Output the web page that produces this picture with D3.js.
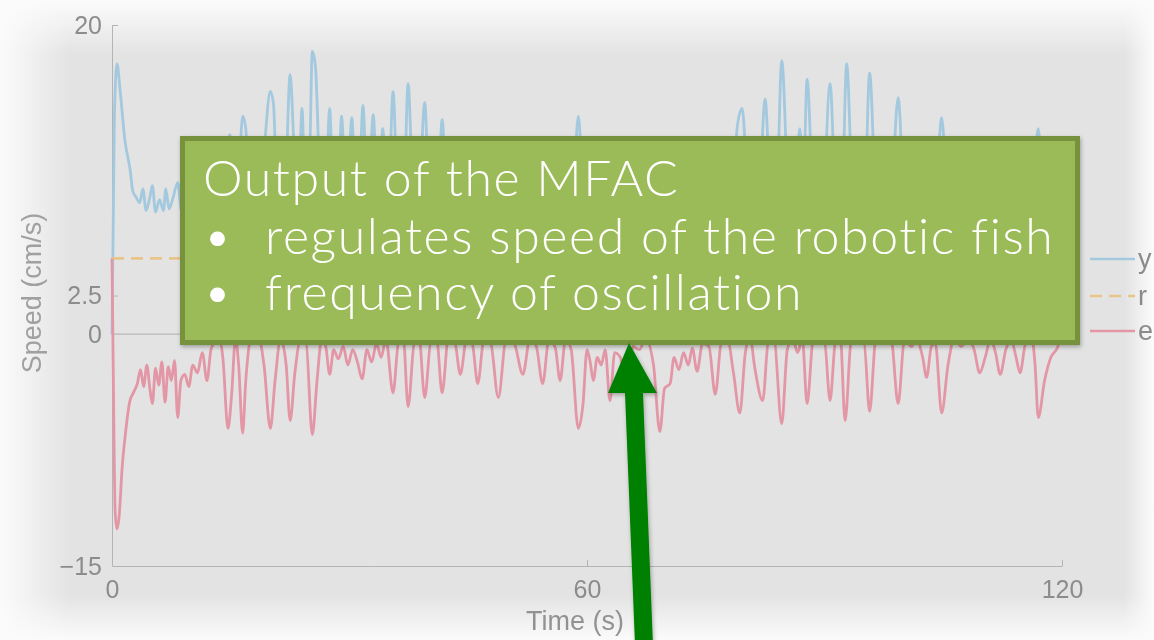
<!DOCTYPE html>
<html>
<head>
<meta charset="utf-8">
<script src="https://cdn.jsdelivr.net/npm/d3@7"></script>
<style>
  body { margin: 0; background: #e4e4e4; }
  svg { display: block; }
  .tick text { fill: #8c8c8c; font-family: "Liberation Sans", Arial, sans-serif; font-size: 25px; }
  .axis path, .axis line { stroke: #b4b4b4; }
</style>
</head>
<body>
<svg id="chart" width="1154" height="640"></svg>
<script>
// time (s) / speed (cm/s) for the measured output y
var timeY = [0,0.3,0.63,1.0,1.64,2.27,2.65,3.0,3.5,3.9,4.3,4.8,5.1,5.5,6.0,6.5,6.8,7.2,7.7,8.3,8.8,9.3,9.8,10.3,10.8,11.3,12.0,12.6,13.2,13.7,14.3,14.9,15.4,15.9,16.5,16.9,17.4,18.0,18.6,19.4,20.0,20.4,21.0,21.6,22.0,22.5,23.0,23.5,24.0,24.5,25.0,25.3,25.7,26.3,26.8,27.5,28.0,28.5,29.0,29.6,30.3,30.8,31.2,31.7,32.3,33.0,33.6,34.2,34.8,35.5,36.2,36.8,37.4,38.0,38.6,39.5,40.2,41.0,41.7,42.4,43.2,44.0,44.8,45.5,46.2,47.0,47.8,48.8,49.8,50.8,51.9,52.8,53.6,54.4,55.3,56.0,56.6,57.4,58.3,58.9,59.6,60.2,60.8,61.5,62.2,62.9,63.7,64.5,65.2,66.0,67.0,68.4,69.2,69.9,70.5,71.2,72.0,72.7,73.9,74.8,75.5,76.2,77.0,78.0,79.0,79.6,80.3,81.0,81.8,82.5,83.2,83.8,84.6,85.4,86.0,86.9,87.3,87.8,88.7,89.6,90.7,91.5,92.1,92.8,93.6,94.4,95.0,95.7,96.6,97.5,98.5,99.3,100.2,101.0,102.0,102.9,103.8,104.8,105.6,106.5,107.5,108.5,109.6,110.6,111.4,112.2,113.2,114.0,114.7,115.6,116.3,117.0,117.7,118.5,119.4,119.8];
var speedY = [0,14,17.5,15.9,12.5,10.7,9.2,8.9,8.5,9.4,8.0,8.9,9.6,7.9,8.7,8.0,9.4,8.1,8.8,9.8,7.9,8.2,7.2,7.8,6.8,7.3,8.5,6.8,6.0,6.5,10.5,12.9,7.0,8.5,14.1,13.3,6.0,5.3,6.2,13.0,15.7,14.9,6.0,5.5,10.5,16.8,12.0,8.0,14.6,6.5,12.0,18.3,17.3,9.0,6.0,14.6,7.5,8.0,14.1,7.5,14.0,7.0,8.5,14.8,7.5,14.2,7.0,13.3,6.5,15.7,7.0,7.5,16.2,9.0,6.5,15.0,6.5,6.0,13.9,6.5,5.5,10.5,6.0,6.5,11.5,6.0,5.5,12.5,6.0,5.5,10.5,6.0,6.0,11.5,6.5,6.0,11.0,5.5,9.0,14.1,8.0,6.0,11.0,6.5,7.0,12.0,6.5,7.0,11.0,6.0,5.5,9.0,12.5,7.0,10.5,7.0,8.5,7.0,10.0,6.5,7.0,11.5,6.5,6.0,13.5,14.6,9.0,5.5,9.0,15.2,8.0,6.0,17.7,9.0,6.0,13.3,9.0,16.5,7.0,6.0,16.2,7.5,6.5,17.5,8.0,6.0,7.0,16.9,7.0,5.5,9.0,15.3,7.0,6.0,7.0,10.0,6.5,14.0,7.5,6.0,6.5,5.5,9.5,6.0,6.5,10.0,6.0,6.5,10.0,5.5,9.0,13.3,8.0,6.0,5.2,5.0];

// time (s) / error e (cm/s)
var timeE = [0,0.15,0.4,0.63,0.9,1.3,1.64,2.27,2.7,3.2,3.6,4.0,4.4,4.8,5.1,5.5,5.9,6.3,6.7,7.1,7.5,7.9,8.3,8.7,9.2,9.7,10.2,10.8,11.4,12.0,12.5,13.0,13.5,14.0,14.65,15.1,15.6,16.0,16.5,16.9,17.5,18.3,19.2,20.0,20.6,21.3,22.0,22.5,23.1,23.8,24.5,25.3,25.9,26.5,27.0,27.5,28.0,28.6,29.2,29.8,30.4,31.0,31.6,32.2,32.8,33.4,34.0,34.6,35.5,36.2,36.8,37.4,38.2,38.8,39.5,40.3,41.0,41.7,42.5,43.3,44.0,44.8,45.5,46.2,47.0,47.8,48.8,49.8,50.8,51.9,52.8,53.6,54.4,55.2,56.0,56.6,57.3,58.0,58.9,59.5,60.0,60.4,60.8,61.3,61.8,62.3,62.9,63.5,64.2,65.0,65.8,66.6,67.4,68.4,69.2,69.8,70.5,71.0,71.6,72.2,72.8,73.3,73.9,74.6,75.4,76.2,77.0,77.8,78.5,79.3,80.0,80.6,81.2,82.2,82.9,83.6,84.6,85.3,86.0,86.6,87.2,87.8,88.6,89.4,90.0,90.7,91.4,92.0,92.6,93.4,94.2,95.0,95.7,96.5,97.5,98.4,99.3,100.1,101.0,101.6,102.4,102.9,103.5,104.0,104.8,105.6,106.4,107.3,108.1,108.9,109.6,110.3,111.0,111.6,112.2,112.9,113.6,114.2,114.7,115.4,116.2,116.6,117.0,117.8,118.6,119.4,119.8];
var errorE = [4.9,-2,-11.5,-12.6,-11.8,-8.5,-6.7,-4.3,-3.8,-3.2,-2.3,-3.4,-2.0,-3.6,-4.5,-2.2,-3.3,-1.8,-4.4,-2.1,-3.0,-1.7,-5.4,-3.0,-2.6,-3.4,-2.0,-2.5,-1.2,-3.0,-1.0,-0.5,-0.2,-1.5,-6.1,-4.0,-0.3,-2.0,-6.4,-3.0,-0.3,0.2,-2.0,-6.1,-3.0,-0.3,-2.0,-5.6,-2.5,-0.4,-0.5,-6.5,-3.0,-0.3,-0.8,-2.6,-1.0,-1.6,-0.8,-2.0,-1.0,-1.8,-2.9,-1.0,-1.8,-0.6,-1.5,-0.3,-3.8,-0.5,-0.3,-4.7,-0.5,-0.3,-4.1,-0.4,-0.3,-3.8,-0.2,-0.5,-2.6,-0.3,-0.6,-3.2,-0.3,-0.5,-4.1,-0.3,-0.6,-2.6,-0.3,-0.8,-3.2,-0.3,-0.9,-3.0,-0.3,-1.0,-6.1,-4.5,-1.0,-1.8,-3.0,-1.5,-2.0,-1.0,-4.3,-1.2,-1.5,-3.5,-0.8,-1.0,-0.3,-2.0,-6.3,-3.5,-3.2,-1.5,-2.3,-1.2,-2.0,-0.9,-2.4,-0.6,-0.8,-3.9,-0.5,-0.5,-2.5,-5.1,-1.2,-0.2,-2.2,-4.3,-0.5,-0.3,-5.8,-1.0,-0.3,-1.2,-0.3,-4.5,-0.3,-0.4,-0.5,-4.3,-0.4,-0.2,-5.6,-0.4,-0.5,-0.6,-5.0,-0.3,-0.5,-0.3,-4.5,-0.4,-0.8,-0.3,-1.5,-2.8,-0.8,-0.6,-5.1,-2.0,-0.3,-0.8,-0.2,-1.0,-2.5,-1.5,-0.3,-1.2,-2.6,-1.0,-0.4,-1.5,-2.5,-0.6,-0.3,-2.0,-5.4,-3.0,-1.5,-0.9,-0.3];

// reference speed r
var timeR = [0, 120];
var refR = [4.9, 4.9];

var yTicks = [20, 2.5, 0, -15];
var xTicks = [0, 60, 120];
var legendNames = ["y", "r", "e"];
var colors = {y: "#a3c9de", r: "#e9c58a", e: "#e397a6"};

var bullets = ["regulates speed of the robotic fish", "frequency of oscillation"];

var svg = d3.select("#chart");
var defs = svg.append("defs");

// light vignette around the screenshot edges
function edge(id, x1, y1, x2, y2) {
  var g = defs.append("linearGradient").attr("id", id)
    .attr("x1", x1).attr("y1", y1).attr("x2", x2).attr("y2", y2);
  g.append("stop").attr("offset", "0").attr("stop-color", "#fbfbfb").attr("stop-opacity", 1);
  g.append("stop").attr("offset", "1").attr("stop-color", "#fbfbfb").attr("stop-opacity", 0);
}
edge("gTop", 0, 0, 0, 1);
edge("gLeft", 0, 0, 1, 0);
edge("gBot", 0, 1, 0, 0);
edge("gRight", 1, 0, 0, 0);

var soft = defs.append("filter").attr("id", "soft");
soft.append("feGaussianBlur").attr("stdDeviation", 0.6);

var shadow = defs.append("filter").attr("id", "shadow").attr("x", "-5%").attr("y", "-5%").attr("width", "110%").attr("height", "115%");
shadow.append("feDropShadow").attr("dx", 1).attr("dy", 2).attr("stdDeviation", 2).attr("flood-opacity", 0.3);

svg.append("rect").attr("width", 1154).attr("height", 640).attr("fill", "#e3e3e3");

// vignette under the chart
svg.append("rect").attr("width", 1154).attr("height", 55).attr("fill", "url(#gTop)");
svg.append("rect").attr("width", 70).attr("height", 640).attr("fill", "url(#gLeft)");
svg.append("rect").attr("y", 595).attr("width", 1154).attr("height", 45).attr("fill", "url(#gBot)");
svg.append("rect").attr("x", 1124).attr("width", 30).attr("height", 640).attr("fill", "url(#gRight)");

var x = d3.scaleLinear().domain([0, 120]).range([112, 1062]);
var y = d3.scaleLinear().domain([-15, 20]).range([566, 25]);

var plot = svg.append("g").attr("filter", "url(#soft)");

// zero line
plot.append("line")
  .attr("x1", x(0)).attr("x2", x(120))
  .attr("y1", y(0)).attr("y2", y(0))
  .attr("stroke", "#b9b9b9").attr("stroke-width", 1.2);

plot.append("g").attr("class", "axis")
  .attr("transform", "translate(0," + y(-15) + ")")
  .call(d3.axisBottom(x).tickValues(xTicks).tickSizeInner(-6).tickSizeOuter(0).tickPadding(14))
  .call(function(g){ g.select(".domain").attr("stroke", "#b4b4b4"); });

plot.append("g").attr("class", "axis")
  .attr("transform", "translate(" + x(0) + ",0)")
  .call(d3.axisLeft(y).tickValues(yTicks).tickFormat(d3.format("")).tickSizeInner(-6).tickSizeOuter(0).tickPadding(10))
  .call(function(g){
    g.selectAll(".tick").filter(function(d){ return d === 0 || d === -15; }).select("line").remove();
  });

var line = d3.line()
  .x(function(d){ return x(d[0]); })
  .y(function(d){ return y(d[1]); })
  .curve(d3.curveMonotoneX);

var ySeries = timeY.map(function(t, i){ return [t, speedY[i]]; });
var eSeries = timeE.map(function(t, i){ return [t, errorE[i]]; });
var rSeries = timeR.map(function(t, i){ return [t, refR[i]]; });

plot.append("path").datum(ySeries).attr("d", line)
  .attr("fill", "none").attr("stroke", colors.y).attr("stroke-width", 2.8).attr("stroke-linejoin", "round");
plot.append("path").datum(rSeries).attr("d", line)
  .attr("fill", "none").attr("stroke", colors.r).attr("stroke-width", 2.6).attr("stroke-dasharray", "12,7");
plot.append("path").datum(eSeries).attr("d", line)
  .attr("fill", "none").attr("stroke", colors.e).attr("stroke-width", 2.8).attr("stroke-linejoin", "round");

// axis titles
plot.append("text").attr("x", 575).attr("y", 630).attr("text-anchor", "middle")
  .attr("fill", "#929292").style("font-family", "Liberation Sans, Arial, sans-serif").style("font-size", "27px")
  .text("Time (s)");
plot.append("text").attr("transform", "translate(41,293) rotate(-90)").attr("text-anchor", "middle")
  .attr("fill", "#a0a0a0").style("font-family", "Liberation Sans, Arial, sans-serif").style("font-size", "27px")
  .text("Speed (cm/s)");

// legend
var legend = plot.append("g");
legendNames.forEach(function(n, i){
  var ly = [259, 296, 331][i];
  legend.append("line").attr("x1", 1090).attr("x2", 1135).attr("y1", ly).attr("y2", ly)
    .attr("stroke", colors[n]).attr("stroke-width", 2.4)
    .attr("stroke-dasharray", n === "r" ? "12,7" : null);
  legend.append("text").attr("x", 1138).attr("y", ly).attr("dy", "0.35em")
    .attr("fill", "#8a8a8a").style("font-family", "Liberation Sans, Arial, sans-serif").style("font-size", "27px")
    .text(n);
});

// callout box
var box = svg.append("g");
box.append("rect").attr("x", 182.5).attr("y", 138.5).attr("width", 895).attr("height", 204)
  .attr("fill", "#9bbb59").attr("stroke", "#76923c").attr("stroke-width", 5)
  .attr("filter", "url(#shadow)");
var tf = "Lato, 'Open Sans', sans-serif";
function boxText(tx, ty, s) {
  return box.append("text").attr("x", tx).attr("y", ty).attr("fill", "#fff")
    .style("font-family", tf).style("font-weight", 300).style("font-size", "50px")
    .style("letter-spacing", "1.6px").text(s);
}
boxText(203, 196, "Output of the MFAC");
bullets.forEach(function(b, i){
  var by = 254 + i * 56;
  boxText(203, by, "\u2022");
  boxText(265, by, b);
});

// green arrow
svg.append("path")
  .attr("d", "M629,343 L657,393 L643,393 L653,645 L635,645 L625,393 L608,393 Z")
  .attr("fill", "#008000").attr("filter", "url(#shadow)");
</script>
</body>
</html>
